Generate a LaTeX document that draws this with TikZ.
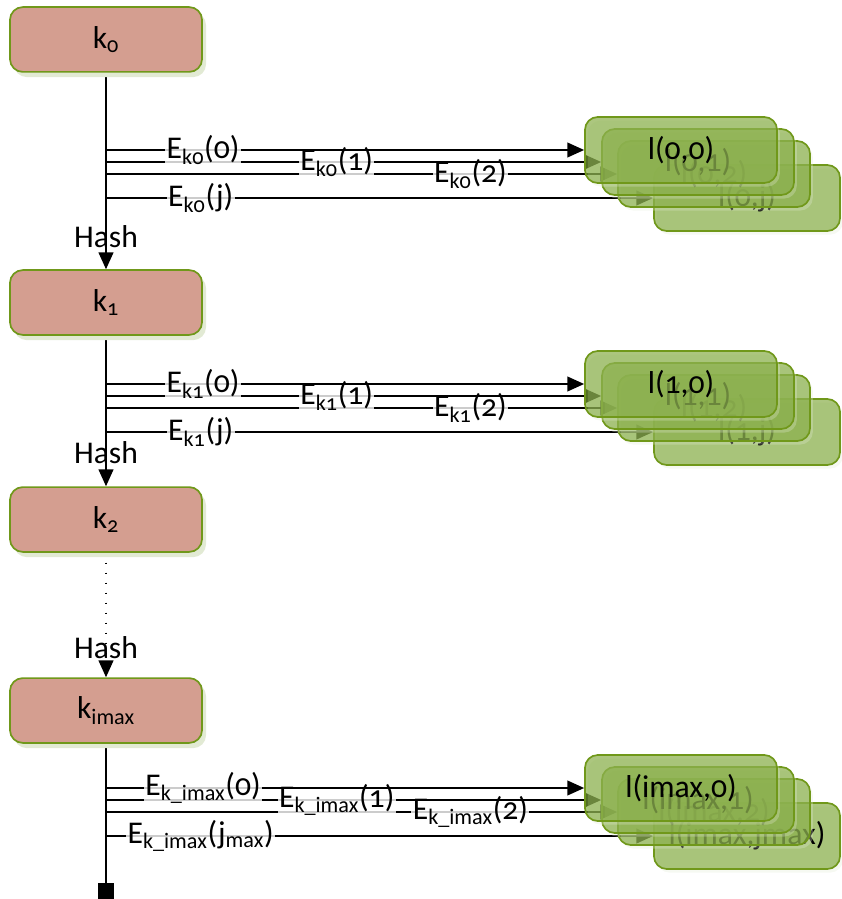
\documentclass[tikz,border=0pt]{standalone}
\usepackage{fontspec}
\setmainfont{Carlito}[Numbers=OldStyle]
\usetikzlibrary{arrows.meta,shadows,backgrounds}

\definecolor{keyfill}{RGB}{212,158,144}
\definecolor{keyline}{RGB}{112,152,26}
\definecolor{keyshadow}{RGB}{226,234,212}
\definecolor{leaffill}{RGB}{127,168,58}

\tikzset{
  key/.style={draw=keyline, fill=keyfill, line width=1.2pt, rounded corners=0.32cm,
    minimum width=4.8cm, minimum height=1.62cm,
    drop shadow={shadow xshift=0.1cm, shadow yshift=-0.13cm, fill=keyshadow, opacity=1}},
  leaf/.style={draw=keyline, fill=leaffill, fill opacity=0.65, draw opacity=1, text opacity=1,
    line width=1.2pt, rounded corners=0.32cm, minimum width=4.8cm, minimum height=1.65cm,
    drop shadow={shadow xshift=0.07cm, shadow yshift=-0.09cm, fill=keyshadow, opacity=0.3}},
  elabel/.style={fill=white, fill opacity=0.8, text opacity=1, inner sep=1pt},
  link/.style={line width=1.1pt, -{Triangle[length=0.42cm,width=0.37cm]}},
}

\begin{document}
\begin{tikzpicture}[x=0.025cm, y=-0.025cm, every node/.append style={font=\fontsize{22.5}{26}\selectfont}]
  \useasboundingbox (0,0) rectangle (841,899);

  % 密钥节点
  \node[key] (k0) at (106,39.5) {k\textsubscript{0}};
  \node[key] (k1) at (106,302.5) {k\textsubscript{1}};
  \node[key] (k2) at (106,519.5) {k\textsubscript{2}};
  \node[key] (kimax) at (106,710.5) {k\textsubscript{imax}};
  \coordinate (tail) at (106,899);

  % 叶节点, 后面的先画
  \node[leaf, minimum width=4.65cm] (l0j) at (747,198) {l(0,j)};
  \node[leaf] (l02) at (714,174) {l(0,2)};
  \node[leaf] (l01) at (698,162) {l(0,1)};
  \node[leaf] (l00) at (681,150) {l(0,0)};

  \node[leaf, minimum width=4.65cm] (l1j) at (747,432) {l(1,j)};
  \node[leaf] (l12) at (714,408) {l(1,2)};
  \node[leaf] (l11) at (698,396) {l(1,1)};
  \node[leaf] (l10) at (681,384) {l(1,0)};

  \node[leaf, minimum width=4.65cm] (lmj) at (747,836) {l(imax,jmax)};
  \node[leaf] (lm2) at (714,812) {l(imax,2)};
  \node[leaf] (lm1) at (698,800) {l(imax,1)};
  \node[leaf] (lm0) at (681,788) {l(imax,0)};

  \begin{pgfonlayer}{background}
    % 哈希链
    \draw[link] (k0) -- node[pos=1, yshift=0.82cm] (h0) {Hash} (k1);
    \draw[link] (k1) -- node[pos=1, yshift=0.85cm] (h1) {Hash} (k2);
    \draw[link, dash pattern=on 1.2pt off 5.9pt] (k2) -- node[pos=1, yshift=0.75cm] (h2) {Hash} (kimax);
    \draw[line width=1.1pt, -{Square[length=0.4cm,width=0.4cm]}] (kimax) -- (tail);

    % 加密分支 (从下往上画)
    \draw[link] (k0 |- l0j.west) -- node[elabel, pos=0.173] (e0j) {E\textsubscript{k0}(j)} (l0j.west);
    \draw[link] (k0 |- l02.west) -- node[elabel, pos=0.713] (e02) {E\textsubscript{k0}(2)} (l02.west);
    \draw[link] (k0 |- l01.west) -- node[elabel, pos=0.466] (e01) {E\textsubscript{k0}(1)} (l01.west);
    \draw[link] (k0 |- l00.west) -- node[elabel, pos=0.203] (e00) {E\textsubscript{k0}(0)} (l00.west);

    \draw[link] (k1 |- l1j.west) -- node[elabel, pos=0.173] (e1j) {E\textsubscript{k1}(j)} (l1j.west);
    \draw[link] (k1 |- l12.west) -- node[elabel, pos=0.713] (e12) {E\textsubscript{k1}(2)} (l12.west);
    \draw[link] (k1 |- l11.west) -- node[elabel, pos=0.466] (e11) {E\textsubscript{k1}(1)} (l11.west);
    \draw[link] (k1 |- l10.west) -- node[elabel, pos=0.203] (e10) {E\textsubscript{k1}(0)} (l10.west);

    \draw[link] (kimax |- lmj.west) -- node[elabel, pos=0.173] (emj) {E\textsubscript{k\_imax}(j\textsubscript{max})} (lmj.west);
    \draw[link] (kimax |- lm2.west) -- node[elabel, pos=0.713] (em2) {E\textsubscript{k\_imax}(2)} (lm2.west);
    \draw[link] (kimax |- lm1.west) -- node[elabel, pos=0.466] (em1) {E\textsubscript{k\_imax}(1)} (lm1.west);
    \draw[link] (kimax |- lm0.west) -- node[elabel, pos=0.203] (em0) {E\textsubscript{k\_imax}(0)} (lm0.west);
  \end{pgfonlayer}
\end{tikzpicture}
\end{document}
